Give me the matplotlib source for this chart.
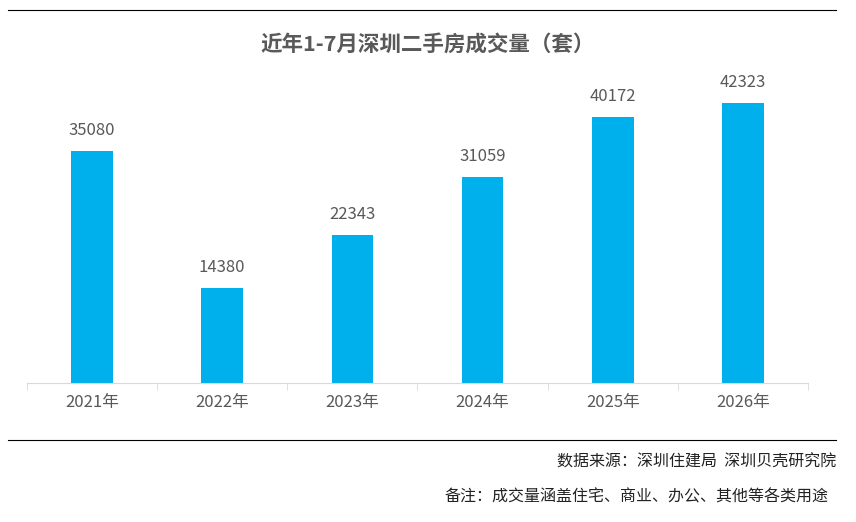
import matplotlib.pyplot as plt
from matplotlib.lines import Line2D

plt.rcParams['font.family'] = ['Noto Sans CJK SC', 'DejaVu Sans']

years = ["2021年", "2022年", "2023年", "2024年", "2025年", "2026年"]
volumes = [35080, 14380, 22343, 31059, 40172, 42323]

BAR = "#00B0EC"
GREY = "#595959"

fig = plt.figure(figsize=(8.56, 5.22), dpi=100)
ax = fig.add_axes([27 / 856, 139 / 522, 781 / 856, 331 / 522])

x = range(len(years))
ax.bar(x, volumes, width=0.32, color=BAR)
for i, v in zip(x, volumes):
    ax.text(i, v + 1800, str(v), ha="center", va="bottom", fontsize=12, color=GREY)

ax.set_xlim(-0.5, len(years) - 0.5)
ax.set_ylim(0, 50000)
ax.set_yticks([])
ax.set_xticks(list(x))
ax.set_xticklabels(years, fontsize=12, color=GREY)
ax.tick_params(axis="x", length=0, pad=8)
ax.set_xticks([i - 0.5 for i in range(len(years) + 1)], minor=True)
ax.tick_params(axis="x", which="minor", length=5, color="#D9D9D9")
for s in ["top", "left", "right"]:
    ax.spines[s].set_visible(False)
ax.spines["bottom"].set_color("#D9D9D9")

fig.text(0.5, 1 - 45 / 522, "近年1-7月深圳二手房成交量（套）", ha="center", va="center",
         fontsize=15.5, fontweight="bold", color=GREY)

fig.add_artist(Line2D([8 / 856, 836 / 856], [1 - 10 / 522] * 2, color="black", lw=0.8))
fig.add_artist(Line2D([8 / 856, 836 / 856], [1 - 440 / 522] * 2, color="black", lw=0.8))

fig.text(836 / 856, 1 - 462 / 522, "数据来源：深圳住建局  深圳贝壳研究院", ha="right",
         va="center", fontsize=11.5, color="#222222")
fig.text(828 / 856, 1 - 497 / 522, "备注：成交量涵盖住宅、商业、办公、其他等各类用途", ha="right",
         va="center", fontsize=11.5, color="#222222")

fig.savefig("out.png", dpi=100)
